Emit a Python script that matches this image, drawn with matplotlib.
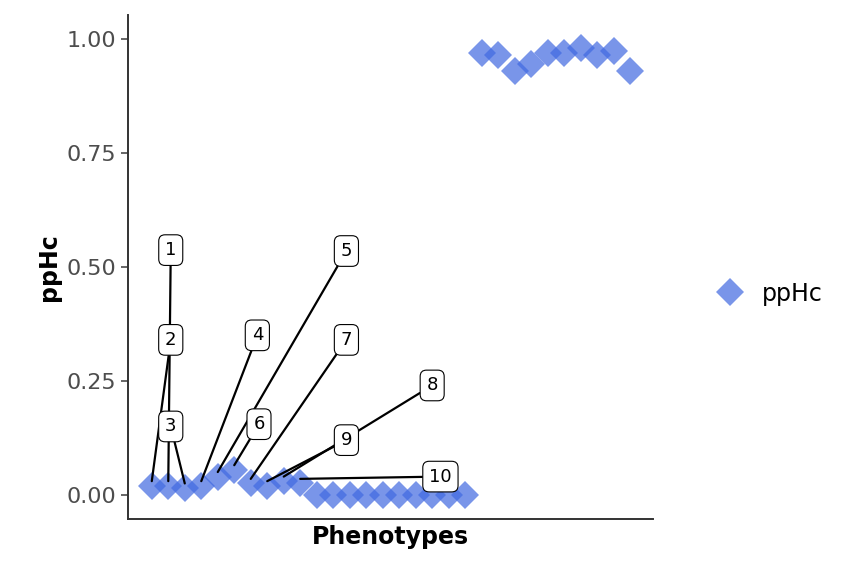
import matplotlib.pyplot as plt
from matplotlib.lines import Line2D

# ppHc per phenotype (ordered)
pphc = [0.02, 0.02, 0.015, 0.02, 0.04, 0.055, 0.025, 0.02, 0.03, 0.025,
        0.0, 0.0, 0.0, 0.0, 0.0, 0.0, 0.0, 0.0, 0.0, 0.0,
        0.97, 0.965, 0.93, 0.945, 0.97, 0.97, 0.98, 0.965, 0.975, 0.93]
# labelled points: label, point index, label position
lab_text = ['1', '2', '3', '4', '5', '6', '7', '8', '9', '10']
lab_idx = [1, 0, 2, 3, 4, 5, 6, 8, 7, 9]
lab_x = [1.15, 1.15, 1.15, 6.4, 11.8, 6.5, 11.8, 17.0, 11.8, 17.5]
lab_y = [0.537, 0.340, 0.15, 0.35, 0.535, 0.155, 0.34, 0.24, 0.12, 0.04]

col = '#4169E1'
fig = plt.figure(figsize=(8.64, 5.76), dpi=100)
ax = fig.add_axes([0.148, 0.099, 0.608, 0.875])
xs = list(range(len(pphc)))
ax.plot(xs, pphc, 'D', color=col, alpha=0.7, markersize=14, markeredgewidth=0, zorder=2)

for t, i, lx, ly in zip(lab_text, lab_idx, lab_x, lab_y):
    ax.annotate(t, xy=(i, pphc[i] + 0.01), xytext=(lx, ly), ha='center', va='center',
                fontsize=13, zorder=4,
                bbox=dict(boxstyle='round,pad=0.35', fc='white', ec='black', lw=0.8),
                arrowprops=dict(arrowstyle='-', color='black', lw=1.6, shrinkA=0, shrinkB=0))

ax.set_xlim(-1.45, 30.4)
ax.set_ylim(-0.053, 1.053)
ax.set_yticks([0, 0.25, 0.5, 0.75, 1.0])
ax.set_yticklabels(['0.00', '0.25', '0.50', '0.75', '1.00'])
ax.set_xticks([])
ax.tick_params(axis='y', labelsize=16, colors='#4d4d4d', length=5, width=1.2)
for s in ['top', 'right']:
    ax.spines[s].set_visible(False)
for s in ['left', 'bottom']:
    ax.spines[s].set_linewidth(1.4)
    ax.spines[s].set_color('#333333')
ax.set_xlabel('Phenotypes', fontsize=17, fontweight='bold')
ax.set_ylabel('ppHc', fontsize=17, fontweight='bold')

h = Line2D([], [], marker='D', ls='none', color=col, alpha=0.7, markersize=14, markeredgewidth=0)
leg = fig.legend([h], ['ppHc'], loc='center left', bbox_to_anchor=(0.8, 0.49),
                 frameon=False, fontsize=17, handlelength=1.5, handletextpad=0.6)
fig.savefig('out.png')
